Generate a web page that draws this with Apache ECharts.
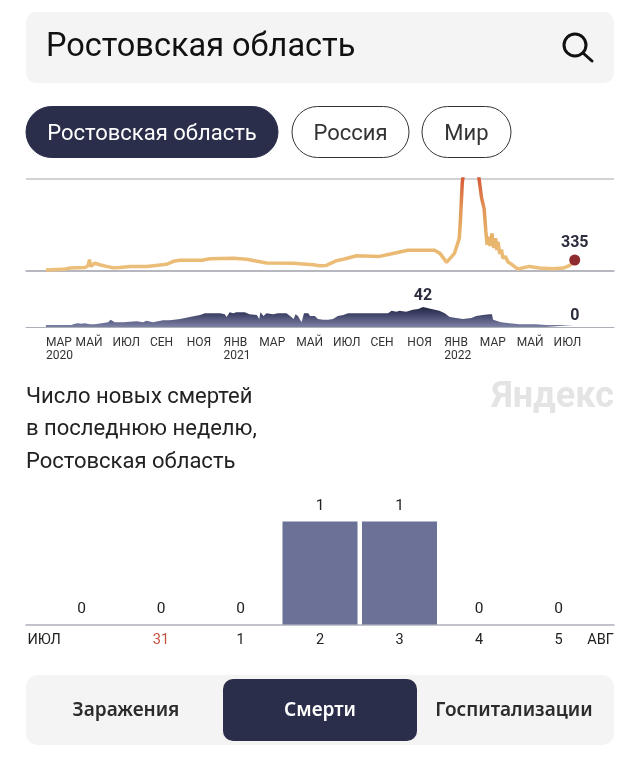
<!DOCTYPE html>
<html>
<head>
<meta charset="utf-8">
<script src="https://cdn.jsdelivr.net/npm/echarts@6/dist/echarts.min.js"></script>
<style>
  html, body { margin: 0; padding: 0; background: #fff; }
  #chart { width: 640px; height: 767px; }
</style>
</head>
<body>
<div id="chart"></div>
<script>
// days are counted from the first reported day
const firstDay = "2020-03-13";
const caseDays = [0, 29, 40, 65, 70, 72, 74, 81, 89, 100, 111, 122, 139, 167, 200, 211, 222, 258, 271, 310, 332, 365, 409, 442, 453, 464, 481, 494, 514, 552, 574, 599, 643, 652, 663, 676, 684, 686, 689, 696, 703, 711, 717, 721, 725, 728, 730, 732, 735, 738, 741, 744, 746, 748, 751, 754, 756, 760, 765, 770, 773, 781, 784, 800, 817, 839, 856, 867, 869, 875];
const caseValues = [30, 50, 90, 110, 170, 345, 140, 235, 190, 140, 100, 110, 140, 140, 205, 295, 325, 325, 375, 385, 355, 245, 235, 190, 160, 170, 315, 365, 465, 445, 535, 630, 630, 537, 263, 537, 993, 1600, 2715, 3600, 4100, 3600, 2765, 2210, 1905, 1195, 800, 1040, 760, 1145, 700, 1000, 640, 890, 520, 650, 385, 450, 263, 210, 162, 60, 70, 140, 90, 70, 90, 170, 130, 335];
const deathDays = [0, 42, 48, 53, 59, 64, 73, 81, 92, 103, 107, 114, 128, 150, 161, 166, 177, 194, 205, 222, 238, 255, 263, 277, 288, 296, 299, 304, 310, 315, 323, 329, 337, 349, 353, 355, 360, 365, 376, 384, 398, 404, 410, 413, 417, 423, 427, 434, 437, 445, 450, 459, 467, 475, 483, 492, 500, 530, 566, 572, 580, 585, 596, 607, 616, 624, 638, 651, 660, 668, 679, 690, 704, 712, 723, 734, 738, 740, 753, 767, 784, 811, 828, 873, 875];
const deathValues = [4, 4, 7, 8, 7, 8, 6, 6, 8, 10, 15, 10, 10, 12, 10, 13, 10, 14, 14, 17, 21, 25, 29, 29, 29, 27, 21, 31, 29, 31, 31, 31, 27, 25, 17, 31, 23, 29, 27, 29, 29, 23, 17, 27, 23, 10, 29, 29, 23, 23, 17, 15, 15, 17, 23, 25, 29, 29, 29, 34, 32, 34, 32, 36, 38, 42, 38, 34, 29, 21, 19, 17, 19, 23, 25, 27, 27, 15, 10, 8, 6, 6, 4, 4, 0];
const tickDates = ["2020-03-13", "2020-05-01", "2020-07-01", "2020-09-01", "2020-11-01", "2021-01-01", "2021-03-01", "2021-05-01", "2021-07-01", "2021-09-01", "2021-11-01", "2022-01-01", "2022-03-01", "2022-05-01", "2022-07-01"];
const tickLabels = ["МАР\n2020", "МАЙ", "ИЮЛ", "СЕН", "НОЯ", "ЯНВ\n2021", "МАР", "МАЙ", "ИЮЛ", "СЕН", "НОЯ", "ЯНВ\n2022", "МАР", "МАЙ", "ИЮЛ"];
const weekDays = ["", "31", "1", "2", "3", "4", "5"];
const weekDeaths = [0, 0, 0, 1, 1, 0, 0];
const weekMonths = ["ИЮЛ", "АВГ"];

const font = "Roboto, 'Noto Sans', sans-serif";
const dark = "#2a2e4b";
const DAY = 86400000;
const start = Date.parse(firstDay);
const tickOffsets = tickDates.map((d) => (Date.parse(d) - start) / DAY);

const pill = (x, w, label, active) => [
  {
    type: "rect",
    shape: { x: x, y: 106.5, width: w, height: 51, r: 25.5 },
    style: { fill: active ? dark : "#fff", stroke: active ? dark : "#333", lineWidth: 1 },
  },
  {
    type: "text",
    style: { x: x + w / 2, y: 134, text: label, align: "center", verticalAlign: "middle", font: "22px " + font, fill: active ? "#fff" : "#333" },
  },
];
const tab = (x, label, color) => ({
  type: "text",
  style: { x: x, y: 711, text: label, align: "center", verticalAlign: "middle", font: "600 19px 'Noto Sans', sans-serif", fill: color },
});
const heading = (y, label) => ({
  type: "text",
  style: { x: 26, y: y, text: label, verticalAlign: "middle", font: "22px " + font, fill: "#222" },
});

const chart = echarts.init(document.getElementById("chart"));
chart.setOption({
  animation: false,
  textStyle: { fontFamily: font },
  graphic: [
    { type: "rect", shape: { x: 26, y: 12, width: 588, height: 71, r: 10 }, style: { fill: "#f4f4f4" } },
    { type: "text", style: { x: 46, y: 48, text: "Ростовская область", verticalAlign: "middle", font: "32.5px " + font, fill: "#111" } },
    { type: "circle", shape: { cx: 575, cy: 45, r: 11 }, style: { fill: "none", stroke: "#111", lineWidth: 3 } },
    { type: "line", shape: { x1: 583, y1: 53, x2: 592, y2: 61 }, style: { stroke: "#111", lineWidth: 3, lineCap: "round" } },
    ...pill(26, 252, "Ростовская область", true),
    ...pill(292, 117, "Россия", false),
    ...pill(422, 89, "Мир", false),
    heading(397, "Число новых смертей"),
    heading(429, "в последнюю неделю,"),
    heading(462, "Ростовская область"),
    { type: "text", style: { x: 614, y: 398, text: "Яндекс", align: "right", verticalAlign: "middle", font: "bold 36px 'Liberation Sans Narrow', Roboto, sans-serif", fill: "#e4e4e4" } },
    { type: "rect", shape: { x: 26, y: 675, width: 588, height: 70, r: 12 }, style: { fill: "#f4f4f4" } },
    { type: "rect", shape: { x: 223, y: 679, width: 194, height: 62, r: 10 }, style: { fill: dark } },
    tab(126, "Заражения", "#2b2b2b"),
    tab(320, "Смерти", "#fff"),
    tab(514, "Госпитализации", "#2b2b2b"),
  ],
  grid: [
    { left: 26, width: 588, top: 179, height: 92 },
    { left: 26, width: 588, top: 287, height: 40 },
    { left: 26, width: 588, top: 521.5, height: 103 },
  ],
  xAxis: [
    {
      type: "value",
      gridIndex: 0,
      min: -33,
      max: 940,
      axisLine: { onZero: false, lineStyle: { color: "#aeb0b8", width: 1.5 } },
      axisTick: { show: false },
      axisLabel: { show: false },
      splitLine: { show: false },
    },
    {
      type: "value",
      gridIndex: 1,
      min: -33,
      max: 940,
      axisLine: { onZero: false, lineStyle: { color: "#aeb0b8", width: 1 } },
      axisTick: { show: false },
      splitLine: { show: false },
      axisLabel: {
        customValues: tickOffsets,
        formatter: (v) => tickLabels[tickOffsets.indexOf(v)],
        align: "left",
        margin: 9,
        hideOverlap: false,
        fontSize: 12,
        lineHeight: 13,
        color: "#333",
      },
    },
    {
      type: "value",
      gridIndex: 2,
      min: -0.698,
      max: 6.698,
      axisLine: { onZero: false, lineStyle: { color: "#aeb0bd", width: 1.5 } },
      axisTick: { show: false },
      splitLine: { show: false },
      axisLabel: {
        customValues: [-0.47, 1, 2, 3, 4, 5, 6, 6.53],
        formatter: (v) => (v === -0.47 ? weekMonths[0] : v === 6.53 ? weekMonths[1] : weekDays[v]),
        color: (v) => (Number(v) === 1 ? "#c5513f" : "#222"),
        margin: 8,
        fontSize: 14.5,
        hideOverlap: false,
      },
    },
  ],
  yAxis: [
    {
      type: "value",
      gridIndex: 0,
      min: 0,
      max: 2800,
      interval: 2800,
      axisLabel: { show: false },
      axisLine: { show: false },
      axisTick: { show: false },
      splitLine: { lineStyle: { color: "#c4c4c8", width: 1.5 } },
    },
    {
      type: "value",
      gridIndex: 1,
      min: 0,
      max: 84,
      axisLabel: { show: false },
      axisLine: { show: false },
      axisTick: { show: false },
      splitLine: { show: false },
    },
    {
      type: "value",
      gridIndex: 2,
      min: 0,
      max: 1,
      axisLabel: { show: false },
      axisLine: { show: false },
      axisTick: { show: false },
      splitLine: { show: false },
    },
  ],
  visualMap: {
    show: false,
    type: "continuous",
    seriesIndex: 0,
    dimension: 1,
    min: 0,
    max: 2800,
    inRange: { color: ["#ecbf7b", "#e8b56c", "#e39757", "#d75e3a"] },
  },
  series: [
    {
      type: "line",
      xAxisIndex: 0,
      yAxisIndex: 0,
      data: caseDays.map((d, i) => [d, caseValues[i]]),
      showSymbol: false,
      lineStyle: { width: 3.5 },
      silent: true,
    },
    {
      // last day dot with its value
      type: "scatter",
      xAxisIndex: 0,
      yAxisIndex: 0,
      data: [[caseDays[caseDays.length - 1], caseValues[caseValues.length - 1]]],
      symbolSize: 11,
      itemStyle: { color: "#8f2a2e", opacity: 1 },
      label: { show: true, position: "top", distance: 3, formatter: (p) => String(p.value[1]), fontSize: 16, fontWeight: 700, color: "#2b2d3f" },
      z: 5,
    },
    {
      type: "line",
      xAxisIndex: 1,
      yAxisIndex: 1,
      data: deathDays.map((d, i) => [d, deathValues[i]]),
      showSymbol: false,
      lineStyle: { width: 0 },
      areaStyle: {
        opacity: 1,
        color: new echarts.graphic.LinearGradient(0, 0, 0, 1, [
          { offset: 0, color: "#23263f" },
          { offset: 0.35, color: "#3d4165" },
          { offset: 1, color: "#7c81a6" },
        ]),
      },
      silent: true,
    },
    {
      // value labels over the death curve: maximum and last day
      type: "scatter",
      xAxisIndex: 1,
      yAxisIndex: 1,
      symbolSize: 0,
      itemStyle: { opacity: 1 },
      data: [
        [deathDays[deathValues.indexOf(Math.max(...deathValues))], Math.max(...deathValues)],
        [deathDays[deathDays.length - 1], deathValues[deathValues.length - 1]],
      ],
      label: { show: true, position: "top", distance: 3, formatter: (p) => String(p.value[1]), fontSize: 16, fontWeight: 700, color: "#2b2d3f" },
      silent: true,
    },
    {
      type: "bar",
      xAxisIndex: 2,
      yAxisIndex: 2,
      data: weekDeaths.map((v, i) => [i, v]),
      barWidth: 75,
      itemStyle: { color: "#6c7197" },
      label: { show: true, position: "top", distance: 7, formatter: (p) => String(p.value[1]), fontSize: 15.5, color: "#222" },
      silent: true,
    },
  ],
});
</script>
</body>
</html>
